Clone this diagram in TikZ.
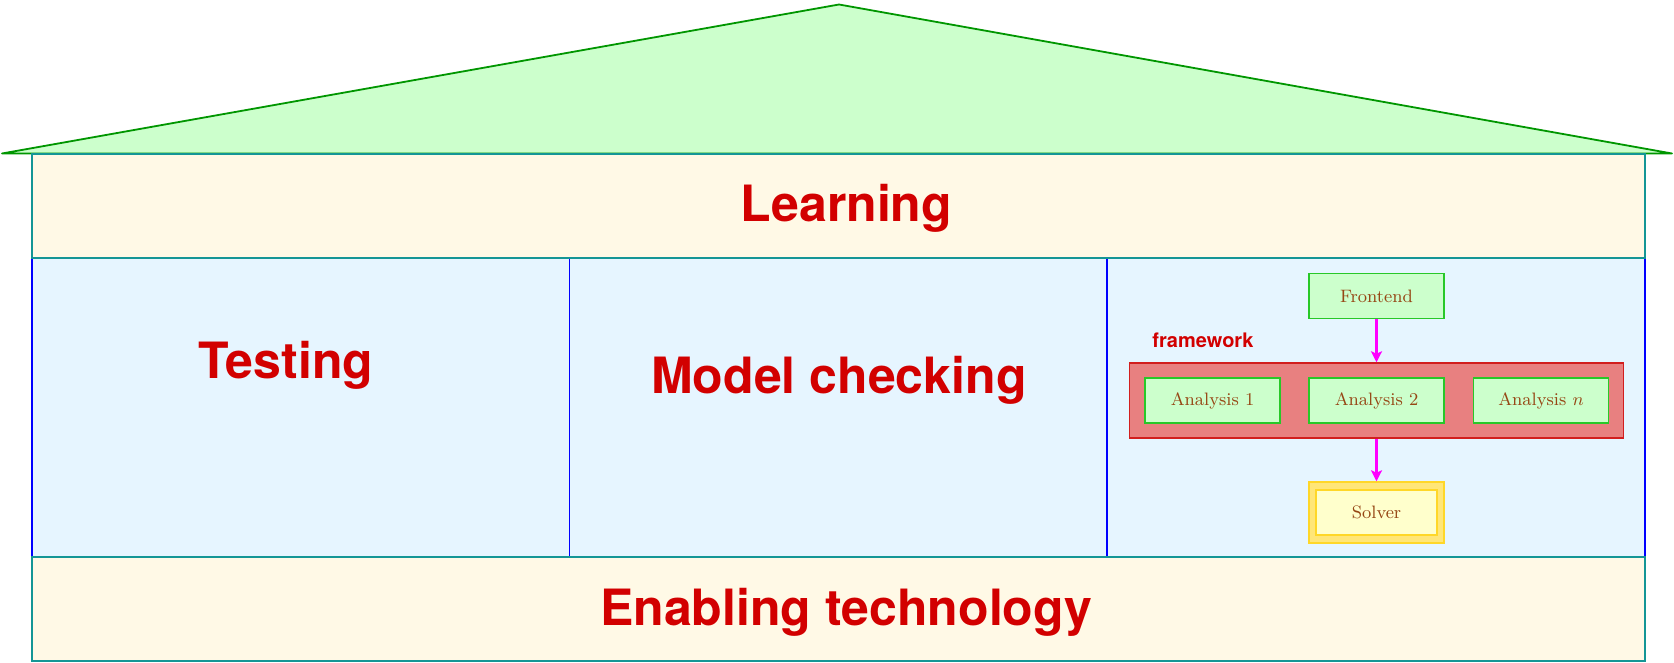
\documentclass[tikz,border=0pt]{standalone}
\usepackage{fontspec}
\newfontfamily\heros{TeX Gyre Heros}
\usetikzlibrary{arrows.meta}
\definecolor{roofgreen}{RGB}{204,255,204}
\definecolor{roofline}{RGB}{0,150,0}
\definecolor{cream}{RGB}{255,249,230}
\definecolor{tealline}{RGB}{20,150,150}
\definecolor{paleblue}{RGB}{230,245,255}
\definecolor{paneblue}{RGB}{0,0,255}
\definecolor{titlered}{RGB}{210,0,0}
\definecolor{boxgreen}{RGB}{204,255,204}
\definecolor{boxgreenline}{RGB}{40,200,40}
\definecolor{fwfill}{RGB}{232,128,128}
\definecolor{fwline}{RGB}{210,30,30}
\definecolor{txtbrown}{RGB}{150,70,20}
\definecolor{solverout}{RGB}{255,230,120}
\definecolor{solverline}{RGB}{255,215,40}
\definecolor{solverin}{RGB}{255,255,204}
\definecolor{flowmag}{RGB}{255,0,255}
\begin{document}
\begin{tikzpicture}[x=0.5pt,y=-0.5pt,
  bigtitle/.style={font=\heros\bfseries\fontsize{25}{29}\selectfont, text=titlered, anchor=base, inner sep=0pt},
  compbox/.style={draw=boxgreenline, fill=boxgreen, line width=0.7pt, minimum width=67.5pt, minimum height=22.5pt, inner sep=0pt, text=txtbrown, font=\fontsize{9}{11}\selectfont},
  pane/.style={fill=paleblue, draw=paneblue, line width=0.75pt},
  band/.style={fill=cream, draw=tealline, line width=0.75pt},
  flow/.style={draw=flowmag, line width=1.5pt, -{Stealth[length=5.5pt,width=5.5pt,inset=1.2pt]}}]
\useasboundingbox (0,0) rectangle (1674,663);
% roof
\path[fill=roofgreen, draw=roofline, line width=0.9pt, line join=round] (2,153.5) -- (839,4.5) -- (1672,153.5) -- cycle;
% panes
\draw[pane] (32,258) rectangle (569.5,557);
\draw[pane] (569.5,258) rectangle (1107,557);
\draw[pane] (1107,258) rectangle (1645,557);
\draw[band] (32,154) rectangle (1645,258);
\draw[band] (32,557) rectangle (1645,661);
% titles
\node[bigtitle] (learn) at (846.5,221.7) {Learning};
\node[bigtitle] (test) at (286,378) {Testing};
\node[bigtitle] (mc) at (839,393) {Model checking};
\node[bigtitle] (enab) at (846,625) {Enabling technology};
% framework
\node[draw=fwline, fill=fwfill, line width=0.7pt, minimum width=247pt, minimum height=37.5pt, inner sep=0pt] (fw) at (1376.5,400.5) {};
\node[font=\heros\bfseries\fontsize{10}{12}\selectfont, text=titlered, anchor=base west, inner sep=0pt] (fwlabel) at (1152,347) {framework};
\node[compbox] (front) at (1376.5,296) {Frontend};
\node[compbox] (an1) at (1212.5,400.5) {Analysis 1};
\node[compbox] (an2) at (1376.5,400.5) {Analysis 2};
\node[compbox] (ann) at (1541,400.5) {Analysis $n$};
\node[draw=solverline, fill=solverout, line width=0.7pt, minimum width=67.5pt, minimum height=30.5pt, inner sep=0pt] (solverbox) at (1376.5,512.5) {};
\node[draw=solverline, fill=solverin, line width=0.7pt, minimum width=60.5pt, minimum height=22.5pt, inner sep=0pt, text=txtbrown, font=\fontsize{9}{11}\selectfont] (solver) at (1376.5,512.5) {Solver};
\draw[flow] (front) -- (fw);
\draw[flow] (fw) -- (solverbox);
\end{tikzpicture}
\end{document}
